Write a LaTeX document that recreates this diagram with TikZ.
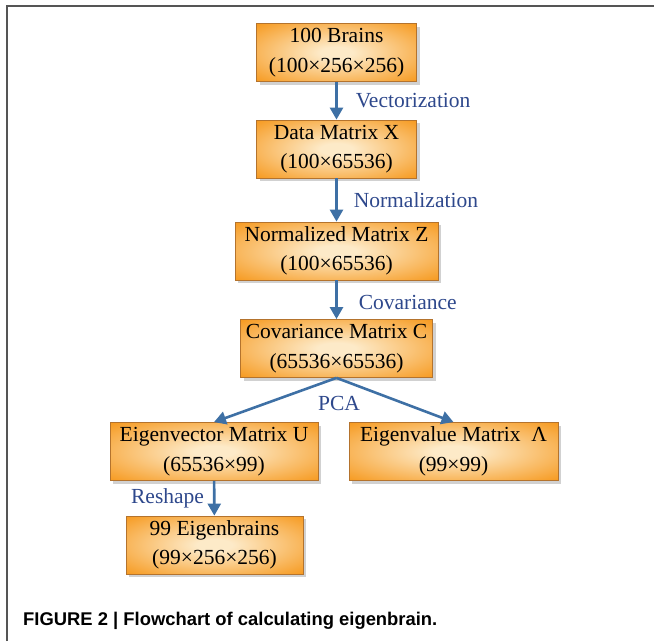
\documentclass[tikz,border=0pt]{standalone}
\usepackage{fontspec}
\setmainfont{Liberation Serif}
\newfontfamily\capfont{Liberation Sans}
\usetikzlibrary{positioning, arrows.meta, shadows}

\definecolor{boxorange}{RGB}{246,152,28}
\definecolor{boxlight}{RGB}{253,234,200}
\definecolor{boxedge}{RGB}{180,115,45}
\definecolor{arrowblue}{RGB}{62,112,165}
\definecolor{labelblue}{RGB}{46,72,140}
\definecolor{framegray}{RGB}{85,85,85}

\pgfdeclareradialshading{boxglow}{\pgfpoint{0bp}{0bp}}{color(0bp)=(boxlight); color(5bp)=(boxlight); color(36bp)=(boxorange); color(50bp)=(boxorange)}

\tikzset{
    stepbox/.style={draw=boxedge, line width=0.8pt, shading=boxglow, minimum height=58pt,
        inner sep=0pt, align=center, font=\fontsize{21.5}{29.5}\selectfont,
        drop shadow={shadow xshift=3pt, shadow yshift=-3pt, fill=black!40, opacity=0.45}},
    flow/.style={draw=arrowblue, line width=2.6pt, -{Triangle[length=12pt,width=13pt]}},
    steplabel/.style={text=labelblue, font=\fontsize{21.5}{26}\selectfont, inner sep=0pt},
}

\begin{document}
\begin{tikzpicture}[x=1pt, y=-1pt]

    \useasboundingbox (0,0) rectangle (654,641);
    \draw[framegray, line width=2pt] (7,641) -- (7,6) -- (654,6);

    \node[stepbox, minimum width=160pt] (brains) at (336.5,52.5) {100 Brains\\(100×256×256)};
    \node[stepbox, minimum width=160pt] (datamat) at (336.5,149) {Data Matrix X\\(100×65536)};
    \node[stepbox, minimum width=203pt] (normmat) at (336.5,251) {Normalized Matrix Z\\(100×65536)};
    \node[stepbox, minimum width=192pt] (covmat) at (336.5,348.5) {Covariance Matrix C\\(65536×65536)};
    \node[stepbox, minimum width=208pt] (eigvec) at (214,451.5) {Eigenvector Matrix U\\(65536×99)};
    \node[stepbox, minimum width=209pt] (eigval) at (453.5,451.5) {Eigenvalue Matrix~ Λ\\(99×99)};
    \node[stepbox, minimum width=177pt] (eigbrains) at (214.5,545) {99 Eigenbrains\\(99×256×256)};

    \draw[flow] (brains) -- node[steplabel, anchor=west, xshift=18pt] (vect) {Vectorization} (datamat);
    \draw[flow] (datamat) -- node[steplabel, anchor=west, xshift=16pt] (norm) {Normalization} (normmat);
    \draw[flow] (normmat) -- node[steplabel, anchor=west, xshift=21pt, yshift=-3pt] (cov) {Covariance} (covmat);
    \draw[flow] (covmat.south) -- (eigvec.north);
    \draw[flow] (covmat.south) -- (eigval.north);
    \node[steplabel] (pca) at (339,403) {PCA};
    \draw[flow] (eigvec) -- node[steplabel, anchor=east, xshift=-9pt] (reshape) {Reshape} (eigbrains);

    \node[anchor=base west, inner sep=0pt, font=\capfont\bfseries\fontsize{18.4}{22}\selectfont] (caption) at (23,625)
        {FIGURE 2 | Flowchart of calculating eigenbrain.};

\end{tikzpicture}
\end{document}
